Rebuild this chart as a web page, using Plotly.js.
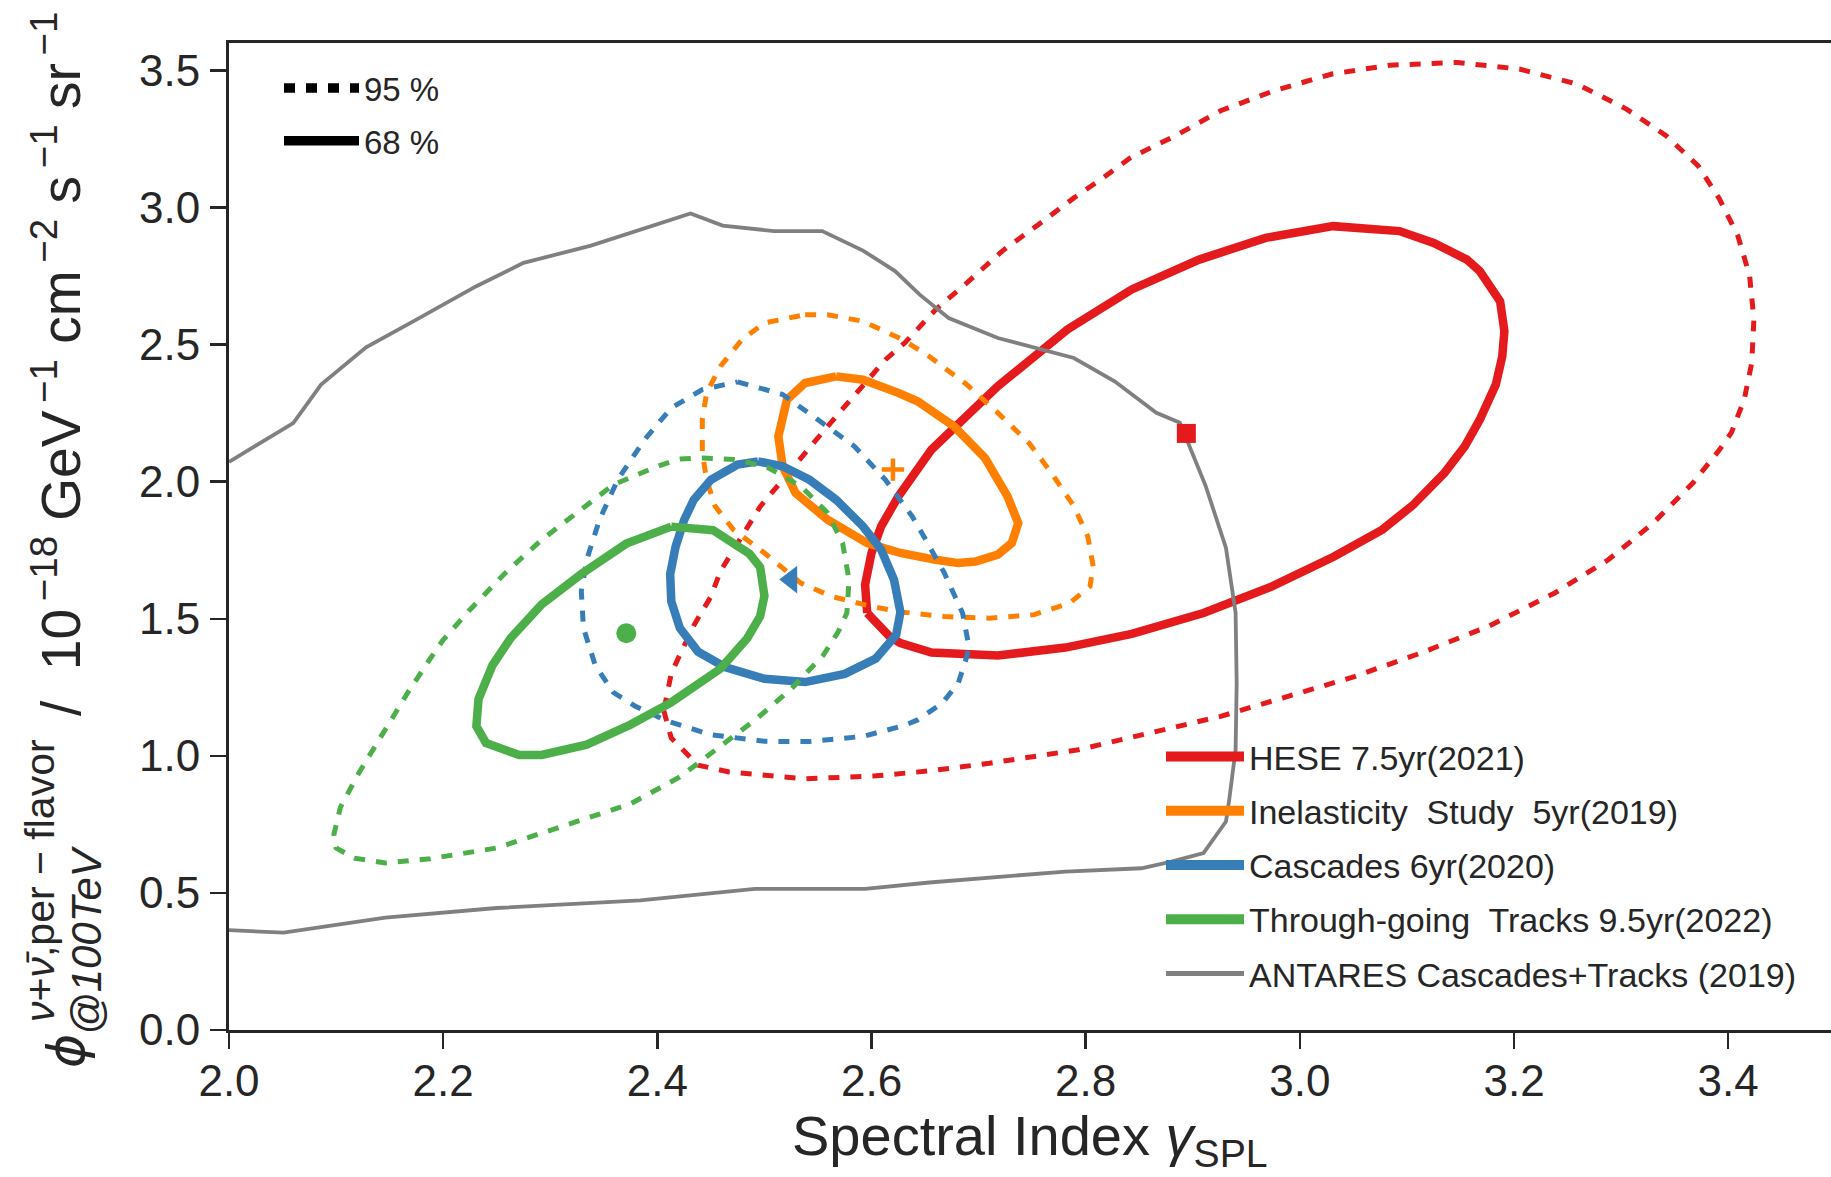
<!DOCTYPE html>
<html>
<head>
<meta charset="utf-8">
<script src="https://cdn.plot.ly/plotly-3.0.1.min.js"></script>
<style>html,body{margin:0;padding:0;overflow:hidden;background:#fff}</style>
</head>
<body>
<div id="chart" style="width:1831px;height:1177px"></div>
<script>
// ---------------- data ----------------
const xTickVals = [2.0, 2.2, 2.4, 2.6, 2.8, 3.0, 3.2, 3.4];
const yTickVals = [0.0, 0.5, 1.0, 1.5, 2.0, 2.5, 3.0, 3.5];

const datasetNames = ["HESE 7.5yr(2021)", "Inelasticity  Study  5yr(2019)", "Cascades 6yr(2020)", "Through-going  Tracks 9.5yr(2022)", "ANTARES Cascades+Tracks (2019)"];
const levelNames = ["95 %", "68 %"];

// HESE 7.5yr
const hese68_x = [2.596,2.594,2.600,2.609,2.625,2.656,2.718,2.783,2.843,2.906,2.968,3.031,3.093,3.125,3.156,3.168,3.187,3.191,3.189,3.183,3.168,3.154,3.135,3.106,3.077,3.032,2.974,2.910,2.843,2.781,2.718,2.656,2.627,2.617,2.596];
const hese68_y = [1.521,1.624,1.740,1.837,1.946,2.117,2.348,2.555,2.701,2.810,2.889,2.932,2.914,2.871,2.810,2.768,2.658,2.549,2.457,2.354,2.226,2.129,2.032,1.916,1.825,1.727,1.618,1.521,1.445,1.395,1.366,1.377,1.411,1.435,1.521];
const hese95_x = [2.406,2.413,2.438,2.467,2.538,2.604,2.654,2.710,2.793,2.851,2.926,2.988,3.051,3.113,3.176,3.238,3.288,3.330,3.367,3.392,3.403,3.415,3.422,3.424,3.420,3.409,3.392,3.372,3.342,3.305,3.259,3.205,3.147,3.084,3.030,2.976,2.926,2.884,2.842,2.814,2.789,2.756,2.722,2.689,2.660,2.631,2.613,2.559,2.513,2.496,2.475,2.459,2.450,2.434,2.420,2.413,2.406];
const hese95_y = [1.165,1.065,0.966,0.941,0.916,0.927,0.945,0.973,1.022,1.077,1.144,1.216,1.289,1.375,1.472,1.594,1.715,1.849,1.995,2.117,2.179,2.300,2.434,2.592,2.751,2.897,3.030,3.152,3.262,3.359,3.450,3.505,3.529,3.519,3.487,3.426,3.353,3.262,3.182,3.102,3.035,2.938,2.841,2.725,2.628,2.506,2.445,2.202,1.983,1.909,1.776,1.674,1.581,1.475,1.360,1.300,1.165];

// Inelasticity study 5yr
const inel68_x = [2.567,2.592,2.625,2.643,2.677,2.706,2.727,2.737,2.731,2.718,2.697,2.681,2.660,2.627,2.596,2.559,2.529,2.517,2.513,2.521,2.538,2.567];
const inel68_y = [2.384,2.372,2.324,2.293,2.202,2.086,1.946,1.849,1.776,1.734,1.709,1.703,1.715,1.740,1.776,1.861,1.959,2.056,2.165,2.299,2.360,2.384];
const inel95_x = [2.538,2.559,2.592,2.629,2.652,2.689,2.718,2.747,2.768,2.789,2.802,2.807,2.804,2.785,2.752,2.710,2.668,2.627,2.600,2.563,2.534,2.500,2.471,2.454,2.446,2.442,2.442,2.446,2.459,2.479,2.500,2.538];
const inel95_y = [2.609,2.609,2.585,2.518,2.462,2.354,2.251,2.141,2.032,1.910,1.800,1.691,1.618,1.557,1.515,1.502,1.508,1.525,1.545,1.581,1.630,1.740,1.825,1.910,2.007,2.105,2.226,2.324,2.421,2.518,2.579,2.609];

// Cascades 6yr
const casc68_x = [2.494,2.517,2.542,2.567,2.592,2.609,2.621,2.627,2.623,2.604,2.575,2.538,2.500,2.463,2.438,2.421,2.413,2.412,2.417,2.425,2.434,2.450,2.475,2.494];
const casc68_y = [2.074,2.056,2.007,1.934,1.837,1.752,1.642,1.524,1.441,1.355,1.299,1.269,1.281,1.324,1.380,1.466,1.564,1.663,1.762,1.860,1.934,2.007,2.062,2.074];
const casc95_x = [2.475,2.517,2.550,2.584,2.613,2.627,2.638,2.647,2.668,2.685,2.691,2.689,2.681,2.666,2.643,2.630,2.592,2.542,2.500,2.450,2.409,2.379,2.359,2.342,2.331,2.329,2.334,2.346,2.363,2.388,2.413,2.442,2.475];
const casc95_y = [2.364,2.318,2.226,2.129,2.007,1.934,1.873,1.813,1.667,1.521,1.399,1.362,1.265,1.192,1.131,1.110,1.071,1.052,1.053,1.077,1.127,1.182,1.231,1.330,1.466,1.600,1.715,1.861,2.007,2.153,2.269,2.336,2.364];

// Through-going tracks 9.5yr
const trk68_x = [2.413,2.452,2.486,2.496,2.500,2.496,2.484,2.459,2.413,2.375,2.334,2.292,2.271,2.240,2.231,2.233,2.246,2.263,2.292,2.329,2.371,2.413];
const trk68_y = [1.836,1.823,1.737,1.688,1.583,1.509,1.429,1.318,1.195,1.114,1.041,1.003,1.003,1.047,1.108,1.207,1.330,1.429,1.552,1.663,1.774,1.836];
const trk95_x = [2.421,2.442,2.475,2.504,2.534,2.559,2.573,2.579,2.577,2.569,2.555,2.525,2.492,2.459,2.421,2.375,2.313,2.250,2.188,2.146,2.117,2.100,2.098,2.104,2.121,2.142,2.167,2.188,2.200,2.225,2.258,2.292,2.325,2.359,2.400,2.421];
const trk95_y = [2.083,2.086,2.080,2.050,1.983,1.886,1.776,1.642,1.521,1.453,1.367,1.244,1.133,1.034,0.923,0.825,0.745,0.664,0.625,0.609,0.627,0.664,0.714,0.812,0.936,1.071,1.231,1.355,1.423,1.533,1.667,1.788,1.886,1.989,2.056,2.083];

// ANTARES cascades+tracks
const ant_x = [2.000,2.060,2.086,2.128,2.175,2.231,2.275,2.338,2.431,2.461,2.509,2.554,2.592,2.622,2.645,2.672,2.718,2.789,2.827,2.866,2.888,2.912,2.931,2.940,2.941,2.940,2.934,2.931,2.910,2.880,2.852,2.781,2.654,2.594,2.491,2.384,2.250,2.146,2.051,2.000];
const ant_y = [2.072,2.214,2.354,2.490,2.591,2.713,2.798,2.861,2.978,2.934,2.914,2.914,2.843,2.768,2.682,2.597,2.524,2.451,2.366,2.251,2.215,1.985,1.758,1.521,1.265,1.022,0.839,0.760,0.645,0.614,0.590,0.578,0.538,0.515,0.515,0.473,0.445,0.410,0.355,0.364];

// best-fit points: HESE, Inelasticity, Cascades, Tracks
const best_x = [2.894, 2.620, 2.525, 2.371];
const best_y = [2.176, 2.044, 1.643, 1.447];

// ---------------- styles ----------------
const RED = '#e41a1c', ORANGE = '#ff7f00', BLUE = '#377eb8', GREEN = '#4daf4a', GRAY = '#808080', INK = '#262626';
const SOLID_W = 8.5, DASH_W = 5, DASH = '11px,11px';
const FONT = 'Liberation Sans, Arial, Helvetica, sans-serif';

function contour(x, y, color, width, dash) {
  return {type: 'scatter', mode: 'lines', x: x, y: y, showlegend: false, hoverinfo: 'skip',
          line: {color: color, width: width, dash: dash || 'solid', shape: 'linear'}};
}
function legendEntry(name, color, width, group, legend, dash) {
  return {type: 'scatter', mode: 'lines', x: [null], y: [null], name: name, legendgroup: group,
          legend: legend, showlegend: true, line: {color: color, width: width, dash: dash || 'solid'}};
}

const traces = [
  contour(hese95_x, hese95_y, RED, DASH_W, DASH),
  contour(hese68_x, hese68_y, RED, SOLID_W),
  contour(inel95_x, inel95_y, ORANGE, DASH_W, DASH),
  contour(inel68_x, inel68_y, ORANGE, SOLID_W),
  contour(casc95_x, casc95_y, BLUE, DASH_W, DASH),
  contour(casc68_x, casc68_y, BLUE, SOLID_W),
  contour(trk95_x, trk95_y, GREEN, DASH_W, DASH),
  contour(trk68_x, trk68_y, GREEN, SOLID_W),
  contour(ant_x, ant_y, GRAY, 3.8),
  {type: 'scatter', mode: 'markers', x: [best_x[0]], y: [best_y[0]], showlegend: false, hoverinfo: 'skip',
   marker: {symbol: 'square', size: 19, color: RED}},
  {type: 'scatter', mode: 'markers', x: [best_x[1]], y: [best_y[1]], showlegend: false, hoverinfo: 'skip',
   marker: {symbol: 'cross-thin', size: 16, color: ORANGE, line: {color: ORANGE, width: 4.5}}},
  {type: 'scatter', mode: 'markers', x: [best_x[2]], y: [best_y[2]], showlegend: false, hoverinfo: 'skip',
   marker: {symbol: 'triangle-left', size: 24, color: BLUE}},
  {type: 'scatter', mode: 'markers', x: [best_x[3]], y: [best_y[3]], showlegend: false, hoverinfo: 'skip',
   marker: {symbol: 'circle', size: 20, color: GREEN}},
  // legend entries
  legendEntry(datasetNames[0], RED, 10, 'g1', 'legend'),
  legendEntry(datasetNames[1], ORANGE, 10, 'g2', 'legend'),
  legendEntry(datasetNames[2], BLUE, 10, 'g3', 'legend'),
  legendEntry(datasetNames[3], GREEN, 10, 'g4', 'legend'),
  legendEntry(datasetNames[4], GRAY, 5, 'g5', 'legend'),
  legendEntry(levelNames[0], '#000', 9.5, 'l1', 'legend2', '11px,11px'),
  legendEntry(levelNames[1], '#000', 9.5, 'l2', 'legend2')
];

const fmt = v => v.toFixed(1);
const PW = 1602, PH = 987, L = 229, T = 43, B = 1030;
const px = X => (X - L) / PW;
const py = Y => (B - Y) / PH;

const layout = {
  width: 1831, height: 1177,
  margin: {l: 229, r: 0, t: 43, b: 147, pad: 0},
  paper_bgcolor: '#ffffff', plot_bgcolor: '#ffffff',
  font: {family: FONT, color: INK},
  showlegend: true,
  xaxis: {
    range: [2.0, 3.496], tickmode: 'array', tickvals: xTickVals, ticktext: xTickVals.map(fmt),
    ticks: 'outside', ticklen: 16, tickwidth: 2.5, tickcolor: INK,
    showline: true, linewidth: 3, linecolor: INK, mirror: true,
    showgrid: false, zeroline: false, tickfont: {size: 44, color: INK, family: FONT},
    ticklabelstandoff: -6, fixedrange: true
  },
  yaxis: {
    range: [0, 3.6], tickmode: 'array', tickvals: yTickVals, ticktext: yTickVals.map(fmt),
    ticks: 'outside', ticklen: 16, tickwidth: 2.5, tickcolor: INK,
    showline: true, linewidth: 3, linecolor: INK, mirror: false,
    showgrid: false, zeroline: false, tickfont: {size: 44, color: INK, family: FONT},
    ticklabelstandoff: 1, fixedrange: true
  },
  legend: {
    x: px(1161), y: py(728), xanchor: 'left', yanchor: 'top',
    bgcolor: 'rgba(0,0,0,0)', borderwidth: 0,
    font: {size: 34, color: INK, family: FONT},
    itemwidth: 78, tracegroupgap: 7, traceorder: 'grouped'
  },
  legend2: {
    x: px(279), y: py(60), xanchor: 'left', yanchor: 'top',
    bgcolor: 'rgba(0,0,0,0)', borderwidth: 0,
    font: {size: 33, color: INK, family: FONT},
    itemwidth: 75, tracegroupgap: 7, traceorder: 'grouped'
  },
  annotations: [
    {xref: 'paper', yref: 'paper', x: px(57), y: py(364), xanchor: 'center', yanchor: 'middle', showarrow: false,
     textangle: -90, font: {size: 55, color: INK, family: FONT},
     text: '/\u00a0\u00a010<sup>\u2009\u221218</sup>\u00a0GeV<sup>\u2009\u22121</sup>\u00a0cm<sup>\u2009\u22122</sup>\u00a0s<sup>\u2009\u22121</sup>\u00a0sr<sup>\u2009\u22121</sup>'},
    {xref: 'paper', yref: 'paper', x: px(66), y: py(1051), xanchor: 'center', yanchor: 'middle', showarrow: false,
     textangle: -90, font: {size: 52, color: INK, family: 'DejaVu Sans, sans-serif'},
     text: '<i>\u03d5</i>'},
    {xref: 'paper', yref: 'paper', x: px(40), y: py(881), xanchor: 'center', yanchor: 'middle', showarrow: false,
     textangle: -90, font: {size: 41, color: INK, family: FONT},
     text: '<i>\u03bd</i>+<i>\u03bd\u0304</i>,per \u2212 flavor'},
    {xref: 'paper', yref: 'paper', x: px(86), y: py(940), xanchor: 'center', yanchor: 'middle', showarrow: false,
     textangle: -90, font: {size: 42, color: INK, family: FONT},
     text: '<i>@100TeV</i>'},
    {xref: 'paper', yref: 'paper', x: 0.5, y: py(1139), xanchor: 'center', yanchor: 'middle', showarrow: false,
     font: {size: 56, color: INK, family: FONT},
     text: 'Spectral Index <i>\u03b3</i><sub>SPL</sub>'}
  ]
};

Plotly.newPlot('chart', traces, layout, {displayModeBar: false, staticPlot: true});
</script>
</body>
</html>
